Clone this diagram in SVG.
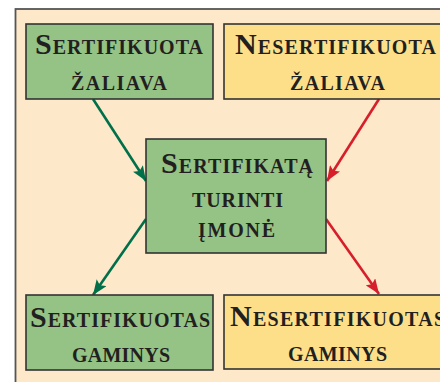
<svg xmlns="http://www.w3.org/2000/svg" width="440" height="382" viewBox="0 0 440 382">
<defs>
<style>
.box{stroke:#333;stroke-width:1.6}
.g{fill:#94c385}
.y{fill:#fddf8a}
text{font-family:"Liberation Serif","Times New Roman",serif;font-weight:bold;font-size:20px;fill:#231f20;text-anchor:middle}
.cap{font-size:30px}
.cg{stroke:#00704a;stroke-width:2.6;fill:none}
.cr{stroke:#d71f2b;stroke-width:2.6;fill:none}
</style>
<marker id="ag" markerUnits="userSpaceOnUse" markerWidth="16" markerHeight="12" refX="15" refY="6" orient="auto">
<path d="M0,0 L15,6 L0,12 L3,6 z" fill="#00704a"/>
</marker>
<marker id="ar" markerUnits="userSpaceOnUse" markerWidth="16" markerHeight="12" refX="15" refY="6" orient="auto">
<path d="M0,0 L15,6 L0,12 L3,6 z" fill="#d71f2b"/>
</marker>
</defs>
<rect width="440" height="382" fill="#ffffff"/>
<rect x="15.5" y="9" width="440" height="390" fill="#fde8c9" stroke="#555" stroke-width="1.8"/>
<g id="connectors">
<path class="cg" d="M93,99 L146,181" marker-end="url(#ag)"/>
<path class="cr" d="M379,99 L327,181" marker-end="url(#ar)"/>
<path class="cg" d="M146,219 L93,295" marker-end="url(#ag)"/>
<path class="cr" d="M326,219 L379,294" marker-end="url(#ar)"/>
</g>
<g id="n1">
<rect class="box g" x="26" y="24" width="187" height="75"/>
<text x="119" y="54" textLength="168" lengthAdjust="spacing"><tspan class="cap">S</tspan>ERTIFIKUOTA</text>
<text x="119" y="90" textLength="96" lengthAdjust="spacing">ŽALIAVA</text>
</g>
<g id="n2">
<rect class="box y" x="224" y="24" width="230" height="75"/>
<text x="335.5" y="54" textLength="201" lengthAdjust="spacing"><tspan class="cap">N</tspan>ESERTIFIKUOTA</text>
<text x="337.5" y="90" textLength="95" lengthAdjust="spacing">ŽALIAVA</text>
</g>
<g id="n3">
<rect class="box g" x="146" y="139" width="180" height="114"/>
<text x="237" y="173" textLength="152" lengthAdjust="spacing"><tspan class="cap">S</tspan>ERTIFIKATĄ</text>
<text x="237.5" y="207" textLength="91" lengthAdjust="spacing">TURINTI</text>
<text x="236.5" y="237" textLength="77" lengthAdjust="spacing">ĮMONĖ</text>
</g>
<g id="n4">
<rect class="box g" x="26" y="295" width="187" height="75"/>
<text x="120" y="326.5" textLength="180" lengthAdjust="spacing"><tspan class="cap">S</tspan>ERTIFIKUOTAS</text>
<text x="121" y="361.5" textLength="98" lengthAdjust="spacing">GAMINYS</text>
</g>
<g id="n5">
<rect class="box y" x="224" y="295" width="230" height="74"/>
<text x="337.5" y="325.5" textLength="215" lengthAdjust="spacing"><tspan class="cap">N</tspan>ESERTIFIKUOTAS</text>
<text x="337.5" y="360.5" textLength="99" lengthAdjust="spacing">GAMINYS</text>
</g>
</svg>
